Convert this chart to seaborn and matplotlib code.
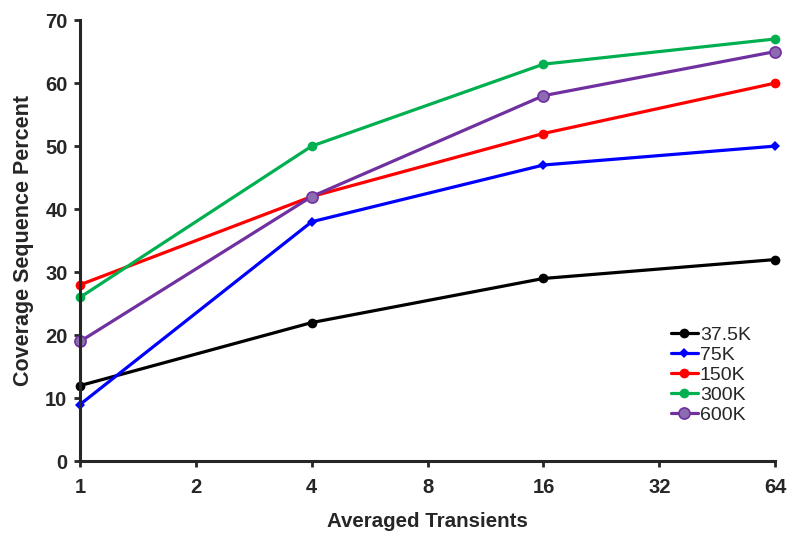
import matplotlib
matplotlib.use('Agg')
import matplotlib.pyplot as plt
import seaborn as sns
import pandas as pd

# Veriler
transients = [1, 4, 16, 64]
series_names = ['37.5K', '75K', '150K', '300K', '600K']
v_375k = [12, 22, 29, 32]
v_75k = [9, 38, 47, 50]
v_150k = [28, 42, 52, 60]
v_300k = [26, 50, 63, 67]
v_600k = [19, 42, 58, 65]
x_ticks = [1, 2, 4, 8, 16, 32, 64]

rows = []
for name, vals in zip(series_names, [v_375k, v_75k, v_150k, v_300k, v_600k]):
    for x, y in zip(transients, vals):
        rows.append({'Transients': x, 'Coverage': y, 'Resolution': name})
df = pd.DataFrame(rows)

sns.set_style('ticks')
plt.rcParams['font.family'] = ['Liberation Sans', 'DejaVu Sans']
plt.rcParams['font.weight'] = 'bold'

colors = {'37.5K': '#000000', '75K': '#0000ff', '150K': '#ff0000',
          '300K': '#00b050', '600K': '#7030a0'}
markers = {'37.5K': 'o', '75K': 'D', '150K': 'o', '300K': 'o', '600K': 'o'}

fig = plt.figure(figsize=(8, 5.42), dpi=100)
ax = fig.add_axes([0.1, 0.149, 0.869, 0.814])
sns.lineplot(data=df, x='Transients', y='Coverage', hue='Resolution', style='Resolution',
             palette=colors, markers=markers, dashes=False, linewidth=2.3,
             markersize=7, markeredgewidth=0, ax=ax)

# 600K işaretleri açık mor dolgulu
for line in ax.lines:
    line.set_clip_on(False)
    if line.get_color() == '#7030a0':
        line.set_markerfacecolor('#8c6bb1')
        line.set_markeredgecolor('#7030a0')
        line.set_markeredgewidth(1.2)
        line.set_markersize(8)
    if line.get_marker() == 'D':
        line.set_markersize(5)

ax.set_xscale('log', base=2)
ax.set_xlim(1, 64)
ax.set_ylim(0, 70)
ax.set_xticks(x_ticks)
ax.set_xticklabels([str(t) for t in x_ticks])
ax.minorticks_off()
ax.set_yticks(range(0, 71, 10))
ax.tick_params(axis='both', labelsize=14.5, width=2, length=4, direction='out')
ax.tick_params(axis='x', pad=8)
ax.tick_params(axis='y', pad=5)
for lab in ax.get_xticklabels() + ax.get_yticklabels():
    lab.set_fontweight('bold')
for s in ['left', 'bottom']:
    ax.spines[s].set_linewidth(2.2)
sns.despine(ax=ax)

ax.set_xlabel('Averaged Transients', fontsize=14.8, fontweight='bold', labelpad=11)
ax.set_ylabel('Coverage Sequence Percent', fontsize=15.5, fontweight='bold', labelpad=8)

leg = ax.legend(loc='lower right', bbox_to_anchor=(0.99, 0.045), frameon=False, fontsize=14,
                handlelength=1.4, handletextpad=0.1, labelspacing=0.12)
for t in leg.get_texts():
    t.set_fontweight('normal')

fig.savefig('out.png', dpi=100)
